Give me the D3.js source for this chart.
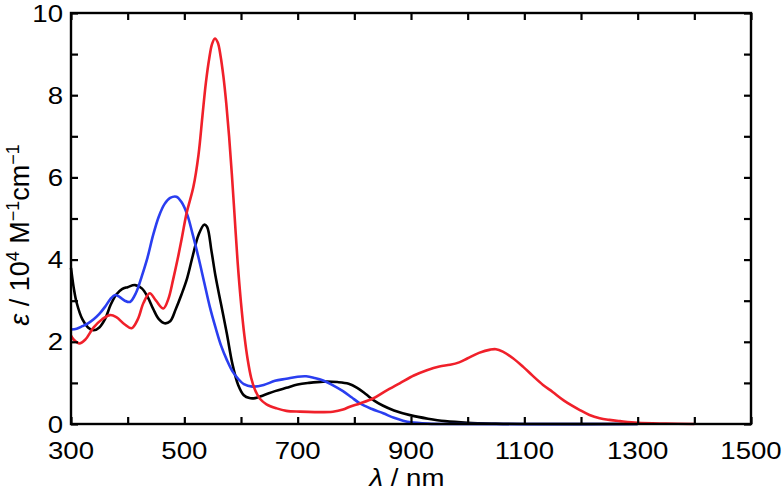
<!DOCTYPE html>
<html><head><meta charset="utf-8">
<script src="https://cdn.jsdelivr.net/npm/d3@7"></script>
<style>body{margin:0;background:#fff}svg{display:block}text{font-family:"Liberation Sans",Arial,Helvetica,sans-serif}</style>
</head><body><svg id="c" width="784" height="492"></svg>
<script>
const blackX=[300,305,310,320,330,340,350,360,370,380,390,400,413,425,435,445,455,465,475,485,495,505,515,525,535,540,548,555,565,575,585,595,605,615,625,640,660,680,700,720,745,770,790,805,820,835,850,870,900,930,960,1000,1050,1100,1300];
const blackY=[3.8,3.3,2.95,2.55,2.35,2.28,2.35,2.55,2.9,3.15,3.28,3.33,3.38,3.3,3.1,2.8,2.55,2.45,2.5,2.8,3.15,3.55,4.1,4.6,4.85,4.8,4.2,3.6,2.9,2.2,1.45,0.95,0.7,0.63,0.63,0.7,0.8,0.88,0.96,1.0,1.03,1.02,0.98,0.88,0.73,0.57,0.45,0.33,0.21,0.13,0.07,0.03,0.01,0,0];
const blueX=[300,310,320,330,340,350,360,370,378,385,395,404,415,425,435,445,455,465,475,486,495,505,515,525,535,545,555,565,575,585,595,605,620,640,660,680,700,715,730,745,760,780,795,810,830,851,870,886,900,930,960,1300];
const blueY=[2.3,2.32,2.38,2.45,2.55,2.68,2.85,3.05,3.14,3.1,3.0,2.97,3.2,3.6,4.05,4.6,5.05,5.35,5.5,5.53,5.4,5.1,4.6,4.05,3.45,2.85,2.35,1.9,1.56,1.28,1.1,0.97,0.91,0.95,1.05,1.1,1.15,1.16,1.12,1.06,0.96,0.8,0.65,0.5,0.37,0.26,0.15,0.08,0.04,0.01,0,0];
const redX=[300,305,315,325,340,355,369,380,395,407,418,428,439,450,463,472,480,488,495,504,516,525,532,538,544,549,554,559,564,569,574,579,584,589,594,600,606,612,618,625,633,645,663,680,704,730,762,780,792,810,833,855,880,905,928,950,969,985,1000,1020,1040,1050,1062,1080,1098,1115,1133,1150,1170,1198,1215,1233,1250,1269,1300,1350,1400];
const redY=[2.15,2.05,1.96,2.05,2.35,2.55,2.65,2.6,2.42,2.33,2.55,2.95,3.18,3.0,2.81,3.05,3.5,4.0,4.48,5.13,5.77,6.55,7.5,8.3,8.9,9.25,9.38,9.28,8.95,8.45,7.8,7.0,6.05,5.0,3.95,2.95,2.15,1.55,1.12,0.82,0.62,0.48,0.38,0.32,0.3,0.29,0.3,0.35,0.42,0.5,0.62,0.8,0.99,1.18,1.31,1.4,1.44,1.5,1.6,1.73,1.81,1.82,1.76,1.6,1.39,1.17,0.95,0.78,0.57,0.34,0.22,0.14,0.1,0.07,0.03,0.01,0];
const xTickLabels=[300,500,700,900,1100,1300,1500];
const yTickLabels=[0,2,4,6,8,10];
const series=[
  {name:"black",x:blackX,y:blackY,color:"#000000"},
  {name:"blue",x:blueX,y:blueY,color:"#2a3ef0"},
  {name:"red",x:redX,y:redY,color:"#f0202a"}
];
const W=784,H=492,m={l:71,r:33,t:13,b:68};
const svg=d3.select("#c");
const x=d3.scaleLinear().domain([300,1500]).range([m.l,W-m.r]);
const y=d3.scaleLinear().domain([0,10]).range([H-m.b,m.t]);
const g=svg.append("g");
const line=d3.line().x(d=>x(d[0])).y(d=>y(d[1])).curve(d3.curveCatmullRom.alpha(0.5));
series.forEach(s=>{
  const pts=s.x.map((v,i)=>[v,s.y[i]]);
  g.append("path").attr("d",line(pts)).attr("fill","none").attr("stroke",s.color).attr("stroke-width",2.6).attr("stroke-linejoin","round");
});
const xt=d3.range(300,1501,100), yt=d3.range(0,11,1);
const tl=7;
const bx=svg.append("g").attr("transform",`translate(0,${H-m.b})`).call(d3.axisBottom(x).tickValues(xt).tickSizeInner(-tl).tickSizeOuter(0).tickFormat(""));
const tx=svg.append("g").attr("transform",`translate(0,${m.t})`).call(d3.axisTop(x).tickValues(xt).tickSizeInner(-tl).tickSizeOuter(0).tickFormat(""));
const ly=svg.append("g").attr("transform",`translate(${m.l},0)`).call(d3.axisLeft(y).tickValues(yt).tickSizeInner(-tl).tickSizeOuter(0).tickFormat(""));
const ry=svg.append("g").attr("transform",`translate(${W-m.r},0)`).call(d3.axisRight(y).tickValues(yt).tickSizeInner(-tl).tickSizeOuter(0).tickFormat(""));
[bx,tx,ly,ry].forEach(a=>{a.selectAll("path").remove();a.selectAll("line").attr("stroke","#000").attr("stroke-width",2.2);});
svg.append("rect").attr("x",m.l).attr("y",m.t).attr("width",W-m.l-m.r).attr("height",H-m.t-m.b).attr("fill","none").attr("stroke","#000").attr("stroke-width",2.4);
svg.append("g").selectAll("text").data(xTickLabels).join("text")
  .attr("transform",d=>`translate(${x(d)},459) scale(1.15,1)`).attr("text-anchor","middle").attr("font-size",24).text(d=>d);
svg.append("g").selectAll("text").data(yTickLabels).join("text")
  .attr("transform",d=>`translate(63,${y(d)+8.5}) scale(1.15,1)`).attr("text-anchor","end").attr("font-size",24).text(d=>d);
const xl=svg.append("text").attr("transform","translate(407,486) scale(1.15,1)").attr("text-anchor","middle").attr("font-size",24);
xl.append("tspan").attr("font-style","italic").text("λ");
xl.append("tspan").text(" / nm");
const yl=svg.append("text").attr("transform",`translate(29,235) rotate(-90)`).attr("text-anchor","middle").attr("font-size",27);
yl.append("tspan").attr("font-style","italic").text("ε");
yl.append("tspan").text(" / 10");
yl.append("tspan").attr("font-size",18).attr("dy",-10).text("4");
yl.append("tspan").attr("dy",10).text(" M");
yl.append("tspan").attr("font-size",18).attr("dy",-10).text("−1");
yl.append("tspan").attr("dy",10).text("cm");
yl.append("tspan").attr("font-size",18).attr("dy",-10).text("−1");
</script></body></html>
